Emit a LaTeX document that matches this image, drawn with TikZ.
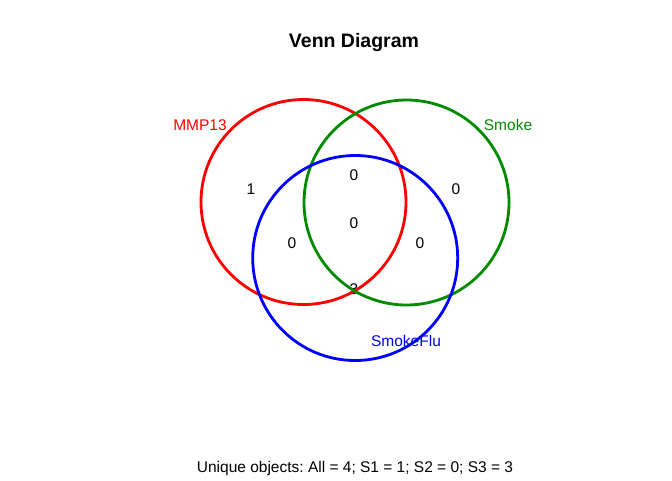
\documentclass[tikz,border=0pt]{standalone}
\usepackage{fontspec}
\setmainfont{Liberation Sans}
\frenchspacing
\definecolor{vred}{RGB}{255,0,0}
\definecolor{vgreen}{RGB}{0,139,0}
\definecolor{vblue}{RGB}{0,0,255}
\begin{document}
\begin{tikzpicture}[x=1pt,y=-1pt,
  set/.style={circle,line width=2.8pt,minimum size=205pt,inner sep=0},
  cnt/.style={font=\fontsize{15.5}{15.5}\selectfont,inner sep=0},
  lab/.style={font=\fontsize{15.5}{15.5}\selectfont,inner sep=0}]
\useasboundingbox (0,0) rectangle (672,480);
% title and footer
\node[font=\fontsize{19.5}{19.5}\selectfont\bfseries] (title) at (354,42) {Venn Diagram};
\node[lab] (foot) at (355,468) {Unique objects: All = 4; S1 = 1; S2 = 0; S3 = 3};
% region counts
\foreach \nm/\x/\y/\v in {a/251/189/1, ab/354/175/0, b/456/189/0, abc/354/223/0,
                          ac/292/243/0, bc/420/243/0, c/354/289/3}{
  \node[cnt] (n\nm) at (\x,\y) {\v};
}
% the three sets
\node[set,draw=vred] (setA) at (303.5,202) {};
\node[set,draw=vgreen] (setB) at (406.5,202.5) {};
\node[set,draw=vblue] (setC) at (355.2,258) {};
% set names
\node[lab,text=vred] (labA) at (200,125) {MMP13};
\node[lab,text=vgreen] (labB) at (508,125) {Smoke};
\node[lab,text=vblue] (labC) at (406,341) {SmokeFlu};
\end{tikzpicture}
\end{document}
